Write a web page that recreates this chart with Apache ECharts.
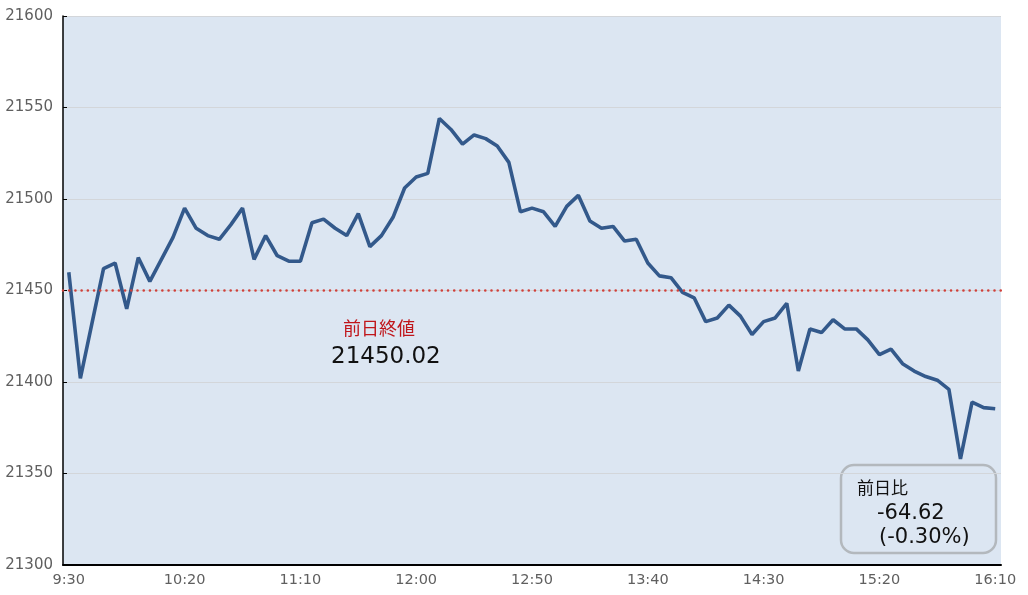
<!DOCTYPE html>
<html><head><meta charset="utf-8">
<script src="https://cdn.jsdelivr.net/npm/echarts@6/dist/echarts.min.js"></script>
<style>html,body{margin:0;padding:0;background:#fff}#c{width:1028px;height:595px}</style>
</head><body><div id="c"></div>
<script>
const times = [];
for (let m = 9*60+30; m <= 16*60+10; m += 5) times.push(Math.floor(m/60) + ':' + String(m%60).padStart(2,'0'));
const prices = [
21460,21402,21432,21462,21465,21440,21468,21455,21467,21479,
21495,21484,21480,21478,21486,21495,21467,21480,21469,21466,
21466,21487,21489,21484,21480,21492,21474,21480,21490,21506,
21512,21514,21544,21538,21530,21535,21533,21529,21520,21493,
21495,21493,21485,21496,21502,21488,21484,21485,21477,21478,
21465,21458,21457,21449,21446,21433,21435,21442,21436,21426,
21433,21435,21443,21406,21429,21427,21434,21429,21429,21423,
21415,21418,21410,21406,21403,21401,21396,21358,21389,21386,21385.40];
const prevClose = 21450.02;
const yTicks = [21300, 21600, 50];
const NUM = '"DejaVu Sans", Verdana, sans-serif';
const JP = '"Noto Sans CJK JP", "Noto Sans", sans-serif';

const chart = echarts.init(document.getElementById('c'));
chart.setOption({
  animation: false,
  grid: {left: 63, right: 27, top: 16, bottom: 30, show: true, backgroundColor: '#dce6f2', borderWidth: 0},
  xAxis: {
    type: 'category', data: times, boundaryGap: true,
    axisLine: {lineStyle: {color: '#000', width: 2}},
    axisTick: {inside: true, length: 4, lineStyle: {color: '#000', width: 1.5},
      interval: (i) => i % 10 === 5 || i === 80},
    axisLabel: {interval: (i) => i % 10 === 0, color: '#5f5f5f', fontSize: 14.5, fontFamily: NUM, margin: 8},
    splitLine: {show: false}
  },
  yAxis: {
    type: 'value', min: yTicks[0], max: yTicks[1], interval: yTicks[2],
    axisLine: {show: true, lineStyle: {color: '#000', width: 1.5}},
    axisTick: {show: true, inside: true, length: 4, lineStyle: {color: '#000'}},
    axisLabel: {color: '#5f5f5f', fontSize: 15, fontFamily: NUM, margin: 10, formatter: (v) => String(v)},
    splitLine: {lineStyle: {color: '#d3d6da', width: 1}}
  },
  series: [{
    type: 'line', data: prices, showSymbol: false, symbol: 'none',
    lineStyle: {color: '#33598b', width: 3.6},
    markLine: {
      silent: true, symbol: 'none', label: {show: false},
      lineStyle: {color: '#d0403a', width: 2.6, type: [0.01, 6.2], cap: 'round'},
      data: [{yAxis: prevClose}]
    }
  }],
  graphic: [
    {type: 'text', x: 343, y: 328, style: {text: '前日終値', fill: '#c0161b', font: '18px ' + JP, verticalAlign: 'middle'}},
    {type: 'text', x: 331, y: 357, style: {text: '21450.02', fill: '#111', font: '23px ' + NUM, verticalAlign: 'middle'}},
    {type: 'rect', shape: {x: 841, y: 465, width: 155, height: 88, r: 13},
      style: {fill: '#dce6f2', stroke: '#b3b8bd', lineWidth: 2.5}},
    {type: 'text', x: 857, y: 488, style: {text: '前日比', fill: '#111', font: '17px ' + JP, verticalAlign: 'middle'}},
    {type: 'text', x: 877, y: 514, style: {text: '-64.62', fill: '#111', font: '21px ' + NUM, verticalAlign: 'middle'}},
    {type: 'text', x: 879, y: 538, style: {text: '(-0.30%)', fill: '#111', font: '21px ' + NUM, verticalAlign: 'middle'}}
  ]
});
</script></body></html>
